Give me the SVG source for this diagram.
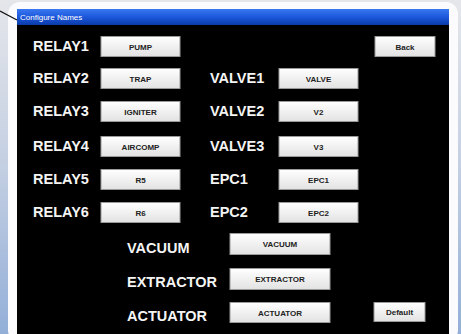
<svg xmlns="http://www.w3.org/2000/svg" width="461" height="334" viewBox="0 0 461 334">
<defs>
<linearGradient id="bg" x1="0" y1="0" x2="0" y2="1">
<stop offset="0" stop-color="#e4e6ea"/>
<stop offset="0.5" stop-color="#c3cfe2"/>
<stop offset="1" stop-color="#93afd8"/>
</linearGradient>
<linearGradient id="tb" x1="0" y1="0" x2="0" y2="1">
<stop offset="0" stop-color="#3a78f0"/>
<stop offset="0.5" stop-color="#1c58dc"/>
<stop offset="1" stop-color="#0a3aa8"/>
</linearGradient>
<linearGradient id="btn" x1="0" y1="0" x2="0" y2="1">
<stop offset="0" stop-color="#ffffff"/>
<stop offset="1" stop-color="#e2e2e2"/>
</linearGradient>
</defs>
<style>
.lbl{font-family:"Liberation Sans",Arial,sans-serif;font-weight:bold;font-size:14.5px;fill:#f4f4f4}
.bt rect{fill:url(#btn);stroke:#9a9a9a;stroke-width:1}
.bt text{font-family:"Liberation Sans",Arial,sans-serif;font-weight:bold;font-size:8px;fill:#222;text-anchor:middle}
</style>
<rect x="0" y="0" width="461" height="334" fill="url(#bg)"/>
<rect x="8" y="2" width="450" height="340" rx="12" fill="#fbfbfd"/>
<g id="window">
<rect x="17" y="9" width="432" height="325" fill="#000"/>
<rect x="17" y="9" width="432" height="16" fill="url(#tb)"/>
<text x="20" y="20" font-family="Liberation Sans,Arial,sans-serif" font-size="8" fill="#fff">Configure Names</text>
</g>
<g id="connectors">
<line x1="0" y1="11" x2="17" y2="20" stroke="#111" stroke-width="1.3"/>
</g>
<g id="labels">
<text class="lbl" x="33" y="51">RELAY1</text>
<text class="lbl" x="33" y="83">RELAY2</text>
<text class="lbl" x="33" y="116">RELAY3</text>
<text class="lbl" x="33" y="151">RELAY4</text>
<text class="lbl" x="33" y="184">RELAY5</text>
<text class="lbl" x="33" y="217">RELAY6</text>
<text class="lbl" x="210" y="83">VALVE1</text>
<text class="lbl" x="210" y="116">VALVE2</text>
<text class="lbl" x="210" y="151">VALVE3</text>
<text class="lbl" x="210" y="184">EPC1</text>
<text class="lbl" x="210" y="217">EPC2</text>
<text class="lbl" x="127" y="253">VACUUM</text>
<text class="lbl" x="127" y="287">EXTRACTOR</text>
<text class="lbl" x="127" y="321">ACTUATOR</text>
</g>
<g id="btn-pump" class="bt"><rect x="101" y="36.5" width="79" height="20"/><text x="140.5" y="49.5">PUMP</text></g>
<g id="btn-trap" class="bt"><rect x="101" y="68.5" width="79" height="20"/><text x="140.5" y="81.5">TRAP</text></g>
<g id="btn-igniter" class="bt"><rect x="101" y="101.5" width="79" height="20"/><text x="140.5" y="114.5">IGNITER</text></g>
<g id="btn-aircomp" class="bt"><rect x="101" y="136.5" width="79" height="20"/><text x="140.5" y="149.5">AIRCOMP</text></g>
<g id="btn-r5" class="bt"><rect x="101" y="169.5" width="79" height="20"/><text x="140.5" y="182.5">R5</text></g>
<g id="btn-r6" class="bt"><rect x="101" y="202.5" width="79" height="20"/><text x="140.5" y="215.5">R6</text></g>
<g id="btn-back" class="bt"><rect x="375" y="36.5" width="60" height="20"/><text x="405" y="49.5">Back</text></g>
<g id="btn-valve" class="bt"><rect x="279" y="68.5" width="79" height="20"/><text x="318.5" y="81.5">VALVE</text></g>
<g id="btn-v2" class="bt"><rect x="279" y="101.5" width="79" height="20"/><text x="318.5" y="114.5">V2</text></g>
<g id="btn-v3" class="bt"><rect x="279" y="136.5" width="79" height="20"/><text x="318.5" y="149.5">V3</text></g>
<g id="btn-epc1" class="bt"><rect x="279" y="169.5" width="79" height="20"/><text x="318.5" y="182.5">EPC1</text></g>
<g id="btn-epc2" class="bt"><rect x="279" y="202.5" width="79" height="20"/><text x="318.5" y="215.5">EPC2</text></g>
<g id="btn-vacuum" class="bt"><rect x="230" y="233.5" width="100" height="21"/><text x="280" y="247">VACUUM</text></g>
<g id="btn-extractor" class="bt"><rect x="230" y="268.5" width="100" height="21"/><text x="280" y="282">EXTRACTOR</text></g>
<g id="btn-actuator" class="bt"><rect x="230" y="302.5" width="100" height="20"/><text x="280" y="315.5">ACTUATOR</text></g>
<g id="btn-default" class="bt"><rect x="374" y="302.5" width="51" height="19"/><text x="399.5" y="315">Default</text></g>
</svg>
